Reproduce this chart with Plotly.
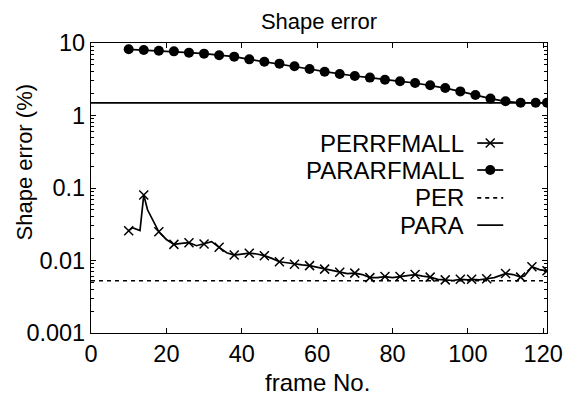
import plotly.graph_objects as go

# ---------------- data ----------------
para_frames = [10, 14, 18, 22, 26, 30, 34, 38, 42, 46, 50, 54, 58, 62, 66, 70,
               74, 78, 82, 86, 90, 94, 98, 102, 106, 110, 114, 118, 121]
para_values = [8.18, 8.0, 7.83, 7.67, 7.36, 7.13, 6.76, 6.48, 5.95, 5.52, 5.19,
               4.77, 4.38, 4.02, 3.73, 3.51, 3.33, 3.12, 2.96, 2.81, 2.61, 2.39,
               2.15, 1.92, 1.71, 1.57, 1.50, 1.50, 1.50]

per_frames = [10, 11, 13, 14, 15, 18, 20, 22, 24, 26, 28, 30, 32, 34, 36, 38, 40,
              42, 44, 46, 48, 50, 52, 54, 56, 58, 60, 62, 64, 66, 68, 70, 72, 74,
              76, 78, 80, 82, 84, 86, 88, 90, 92, 94, 96, 98, 100, 101, 103, 105,
              107, 110, 112, 114, 115, 117, 119, 121]
per_values = [0.0258, 0.0283, 0.0258, 0.080, 0.050, 0.0249, 0.0195, 0.0167,
              0.0172, 0.0176, 0.0160, 0.0169, 0.0182, 0.0152, 0.0128, 0.0119,
              0.0122, 0.0126, 0.0123, 0.01165, 0.0107, 0.0096, 0.0093, 0.0089,
              0.0087, 0.0085, 0.0081, 0.0076, 0.0074, 0.0069, 0.0066, 0.0067,
              0.0064, 0.0058, 0.0058, 0.0060, 0.0058, 0.0060, 0.0062, 0.0064,
              0.0061, 0.0059, 0.0055, 0.0054, 0.0053, 0.0055, 0.0054, 0.0055,
              0.0054, 0.0056, 0.0058, 0.0066, 0.0064, 0.0059, 0.0061, 0.0082,
              0.0075, 0.0072]
per_marker_frames = [10, 14, 18, 22, 26, 30, 34, 38, 42, 46, 50, 54, 58, 62, 66,
                     70, 74, 78, 82, 86, 90, 94, 98, 101, 105, 110, 114, 117, 121]

PER_level = 0.00526
PARA_level = 1.49

x_range = [0, 121]
x_ticks = [0, 20, 40, 60, 80, 100, 120]
y_ticks = [0.001, 0.01, 0.1, 1, 10]
y_ticklabels = ["0.001", "0.01", "0.1", "1", "10"]

legend_names = ["PERRFMALL", "PARARFMALL", "PER", "PARA"]

# ---------------- figure ----------------
FONT = "Liberation Sans, Arial, sans-serif"
FS_TITLE = 22
FS_TICK = 23.5
FS_KEY = 24
FS_XLAB = 24
BLACK = "black"
LW = 1.7

fig = go.Figure()

# PARA / PER reference lines
fig.add_trace(go.Scatter(x=x_range, y=[PARA_level, PARA_level], mode="lines",
                         line=dict(color=BLACK, width=LW), showlegend=False))
fig.add_trace(go.Scatter(x=x_range, y=[PER_level, PER_level], mode="lines",
                         line=dict(color=BLACK, width=LW, dash="4px,4px"),
                         showlegend=False))

# PERRFMALL
fig.add_trace(go.Scatter(x=per_frames, y=per_values, mode="lines",
                         line=dict(color=BLACK, width=LW), showlegend=False))
lut = dict(zip(per_frames, per_values))
fig.add_trace(go.Scatter(x=per_marker_frames, y=[lut[f] for f in per_marker_frames],
                         mode="markers",
                         marker=dict(symbol="x-thin", size=9,
                                     line=dict(color=BLACK, width=1.5)),
                         showlegend=False))

# PARARFMALL
fig.add_trace(go.Scatter(x=para_frames, y=para_values, mode="lines+markers",
                         line=dict(color=BLACK, width=LW),
                         marker=dict(symbol="circle", size=10, color=BLACK),
                         showlegend=False))

# ---- gnuplot-style key (text left, sample right) on an overlay axis ----
key_y = [0.655, 0.562, 0.466, 0.372]
key_x0, key_x1, key_text_x = 0.847, 0.904, 0.822
key_styles = [
    dict(dash="solid", marker="x-thin"),
    dict(dash="solid", marker="circle"),
    dict(dash="4px,4px", marker=None),
    dict(dash="solid", marker=None),
]
for name, ky, st in zip(legend_names, key_y, key_styles):
    fig.add_trace(go.Scatter(x=[key_x0, key_x1], y=[ky, ky], mode="lines",
                             xaxis="x2", yaxis="y2",
                             line=dict(color=BLACK, width=LW, dash=st["dash"]),
                             showlegend=False, hoverinfo="skip"))
    if st["marker"] == "x-thin":
        fig.add_trace(go.Scatter(x=[(key_x0 + key_x1) / 2], y=[ky], mode="markers",
                                 xaxis="x2", yaxis="y2",
                                 marker=dict(symbol="x-thin", size=9,
                                             line=dict(color=BLACK, width=1.5)),
                                 showlegend=False, hoverinfo="skip"))
    elif st["marker"] == "circle":
        fig.add_trace(go.Scatter(x=[(key_x0 + key_x1) / 2], y=[ky], mode="markers",
                                 xaxis="x2", yaxis="y2",
                                 marker=dict(symbol="circle", size=10, color=BLACK),
                                 showlegend=False, hoverinfo="skip"))
    fig.add_annotation(x=key_text_x, y=ky, xref="paper", yref="paper",
                       text=name, showarrow=False, xanchor="right",
                       yanchor="middle",
                       font=dict(family=FONT, size=FS_KEY, color=BLACK))

minor_vals = [m * d for d in [0.001, 0.01, 0.1, 1] for m in range(2, 10)]

fig.update_layout(
    width=565, height=399,
    margin=dict(l=91, r=18, t=43, b=66),
    paper_bgcolor="white", plot_bgcolor="white",
    font=dict(family=FONT, size=FS_TICK, color=BLACK),
    showlegend=False,
    title=dict(text="Shape error", x=0.5, xref="paper", xanchor="center",
               y=1 - 21 / 399, yref="container", yanchor="middle",
               font=dict(family=FONT, size=FS_TITLE, color=BLACK)),
    xaxis=dict(range=x_range, tickvals=x_ticks, ticks="inside", ticklen=5,
               tickwidth=1, tickcolor=BLACK, showline=True, linecolor=BLACK,
               linewidth=1.2, mirror="ticks", showgrid=False, zeroline=False,
               automargin=False,
               tickfont=dict(family=FONT, size=FS_TICK, color=BLACK)),
    yaxis=dict(type="log", range=[-3, 1], tickvals=y_ticks, ticktext=y_ticklabels,
               ticks="inside", ticklen=5, tickwidth=1, tickcolor=BLACK,
               showline=True, linecolor=BLACK, linewidth=1.2, mirror="ticks",
               showgrid=False, zeroline=False, automargin=False,
               minor=dict(tickvals=minor_vals, ticks="inside", ticklen=3,
                          tickcolor=BLACK, showgrid=False),
               tickfont=dict(family=FONT, size=FS_TICK, color=BLACK)),
    xaxis2=dict(overlaying="x", range=[0, 1], visible=False),
    yaxis2=dict(overlaying="y", range=[0, 1], visible=False),
)

fig.add_annotation(x=0.497, y=-0.172, xref="paper", yref="paper",
                   text="frame No.", showarrow=False, xanchor="center",
                   yanchor="middle", font=dict(family=FONT, size=FS_XLAB, color=BLACK))
fig.add_annotation(x=-0.145, y=0.591, xref="paper", yref="paper",
                   text="Shape error (%)", showarrow=False, textangle=-90,
                   xanchor="center", yanchor="middle",
                   font=dict(family=FONT, size=FS_TITLE, color=BLACK))

fig.write_html(
    "out.html",
    config={"displayModeBar": False},
    post_script="document.body.style.margin='0';document.body.style.padding='0';"
                "document.documentElement.style.overflow='hidden';",
)
